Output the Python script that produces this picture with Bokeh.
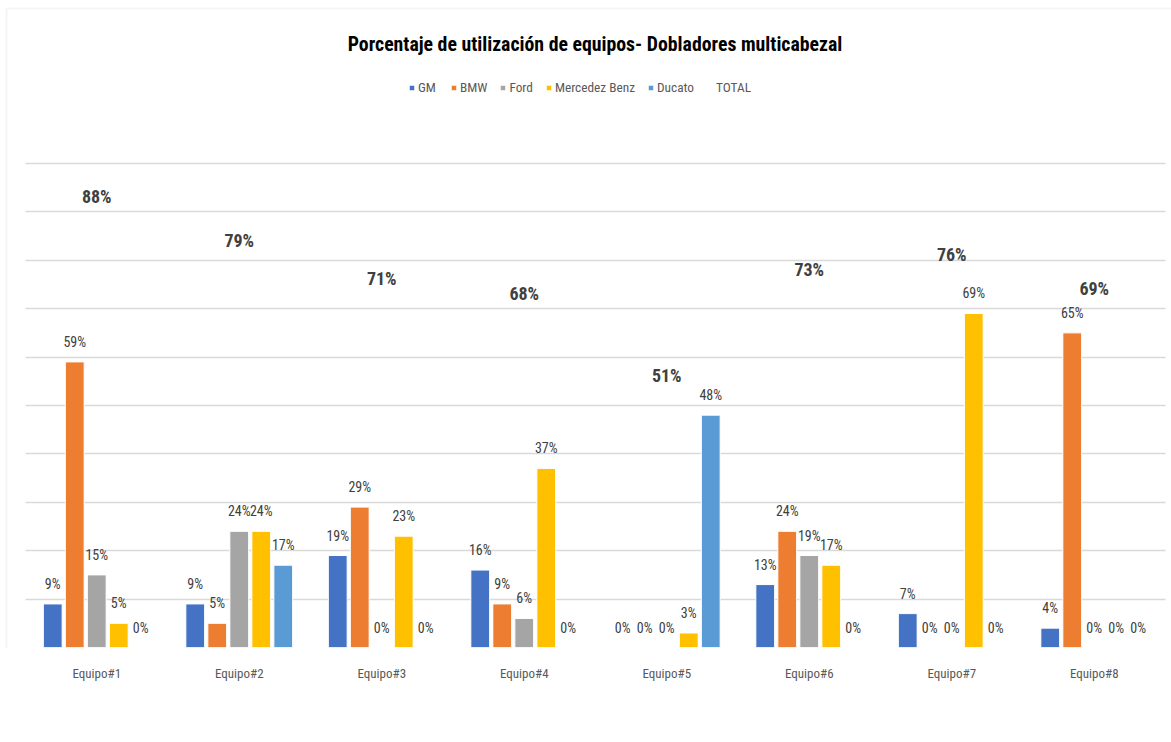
from bokeh.plotting import figure
from bokeh.models import (ColumnDataSource, Range1d, FixedTicker, Label,
                          Legend, LegendItem, BoxAnnotation)
from bokeh.core.properties import value
from bokeh.transform import dodge
from bokeh.embed import file_html
from bokeh.resources import INLINE

categories = ["Equipo#1", "Equipo#2", "Equipo#3", "Equipo#4",
              "Equipo#5", "Equipo#6", "Equipo#7", "Equipo#8"]
series_names = ["GM", "BMW", "Ford", "Mercedez Benz", "Ducato"]
gm = [9, 9, 19, 16, 0, 13, 7, 4]
bmw = [59, 5, 29, 9, 0, 24, 0, 65]
ford = [15, 24, 0, 6, 0, 19, 0, 0]
mercedez = [5, 24, 23, 37, 3, 17, 69, 0]
ducato = [0, 17, 0, 0, 48, 0, 0, 0]
total = [88, 79, 71, 68, 51, 73, 76, 69]
colors = ["#4472C4", "#ED7D31", "#A5A5A5", "#FFC000", "#5B9BD5"]
title_text = "Porcentaje de utilización de equipos- Dobladores multicabezal"

FONT = "Roboto Condensed, Liberation Sans Narrow, DejaVu Sans Condensed, sans-serif"

W, H = 1171, 742
# pixel geometry of the plot area
CAT_W = 142.5          # px per category
LEFT = 25              # px, left edge of category area
BASE = 647             # px, y of 0 %
PX_PER_UNIT = 484.06   # px per 100 %

x_start = (0 - LEFT) / CAT_W - 0.5
x_end = (W - LEFT) / CAT_W - 0.5
y_end = BASE / PX_PER_UNIT

xs = list(range(len(categories)))
data = {"x": xs}
series_vals = [gm, bmw, ford, mercedez, ducato]
keys = ["gm", "bmw", "ford", "merc", "duc"]
for k, vals in zip(keys, series_vals):
    data[k] = [v / 100 for v in vals]
    data[k + "_lbl"] = [f"{v}%" for v in vals]
data["total"] = [v / 100 for v in total]
data["total_lbl"] = [f"{v}%" for v in total]
src = ColumnDataSource(data)

p = figure(x_range=Range1d(x_start, x_end), y_range=Range1d(0, y_end),
           width=W, height=H, output_backend="svg", toolbar_location=None,
           min_border_left=0, min_border_right=0, min_border_top=0,
           min_border_bottom=H - BASE)
p.outline_line_color = None
p.background_fill_color = "white"
p.border_fill_color = "white"

pitch = 0.1544
renderers = []
for i, (k, c) in enumerate(zip(keys, colors)):
    off = (i - 2) * pitch
    r = p.vbar(x=dodge("x", off), top=k, width=0.132, source=src,
               fill_color=c, line_color="white", line_width=1)
    renderers.append(r)
    p.text(x=dodge("x", off), y=k, text=k + "_lbl", source=src,
           y_offset=-20, text_align="center", text_baseline="middle",
           text_font=value(FONT), text_font_size="14px", text_color="#404040")

tot = p.scatter(x="x", y="total", source=src, size=5, fill_alpha=0, line_alpha=0)
p.text(x="x", y="total", text="total_lbl", source=src, y_offset=-25,
       text_align="center", text_baseline="middle", text_font=value(FONT),
       text_font_size="18px", text_font_style="bold", text_color="#404040")

p.yaxis.visible = False
p.yaxis.ticker = FixedTicker(ticks=[i / 10 for i in range(11)])
p.ygrid.grid_line_color = "#d9d9d9"
p.ygrid.grid_line_width = 1.5
try:
    p.ygrid.cross_bounds = (-0.5, len(categories) - 0.5)
except Exception:
    pass
p.xgrid.grid_line_color = None

p.xaxis.ticker = FixedTicker(ticks=xs)
p.xaxis.major_label_overrides = {i: c for i, c in zip(xs, categories)}
p.xaxis.axis_line_color = None
p.xaxis.major_tick_line_color = None
p.xaxis.major_tick_out = 0
p.xaxis.major_tick_in = 0
p.xaxis.major_label_standoff = 18
p.xaxis.major_label_text_font = FONT
p.xaxis.major_label_text_font_size = "13px"
p.xaxis.major_label_text_color = "#595959"

p.add_layout(Label(x=(594.5 - LEFT) / CAT_W - 0.5, y=(BASE - 44) / PX_PER_UNIT,
                   text=title_text, text_align="center", text_baseline="middle",
                   text_font=FONT, text_font_size="19.8px", text_font_style="bold",
                   text_color="#000000"))

items = [LegendItem(label=n, renderers=[r]) for n, r in zip(series_names, renderers)]
items.append(LegendItem(label="TOTAL", renderers=[tot]))
legend = Legend(items=items, orientation="horizontal", location=(408, BASE - 95),
                padding=0, margin=0, spacing=12, glyph_width=7, glyph_height=7,
                label_standoff=3, label_height=14, border_line_color=None,
                background_fill_alpha=0, label_text_font=FONT,
                label_text_font_size="13.3px", label_text_color="#595959")
p.add_layout(legend, "center")

# light outer chart border (top and left edges)
p.add_layout(BoxAnnotation(left=(6 - LEFT) / CAT_W - 0.5, right=x_end + 1,
                           top=(BASE - 8) / PX_PER_UNIT, bottom=-1,
                           fill_alpha=0, line_color="#d9d9d9", line_width=2))

open("out.html", "w").write(file_html(p, INLINE))
